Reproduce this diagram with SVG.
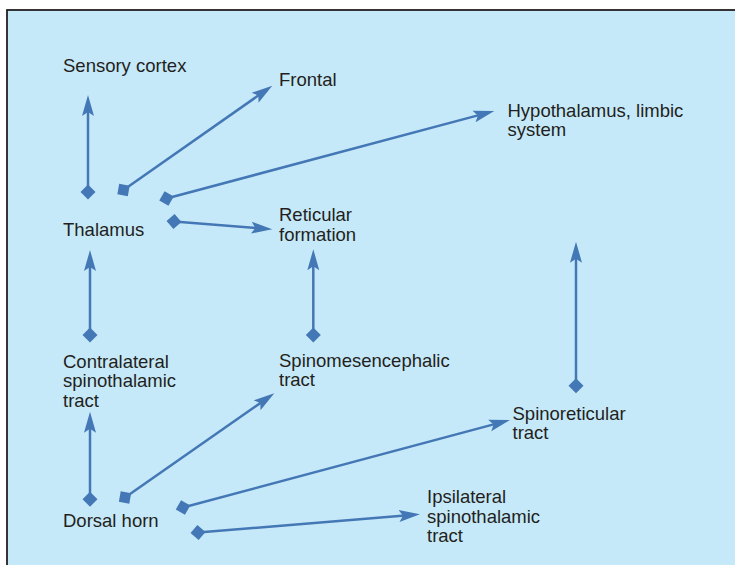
<svg xmlns="http://www.w3.org/2000/svg" width="735" height="565" viewBox="0 0 735 565">
<style>
.lbl{font-family:"Liberation Sans",Arial,sans-serif;font-size:18.5px;fill:#231f20}
.con{stroke:#4477b5;stroke-width:2.5;fill:none;marker-start:url(#dia);marker-end:url(#arr)}
</style>
<defs>
<marker id="arr" markerUnits="userSpaceOnUse" viewBox="0 -7 22 14" refX="6" refY="0" markerWidth="22" markerHeight="14" orient="auto">
<path d="M0,-6 L21,0 L0,6 L4,0 Z" fill="#4477b5"/>
</marker>
<marker id="dia" markerUnits="userSpaceOnUse" viewBox="-8 -8 16 16" refX="0" refY="0" markerWidth="16" markerHeight="16" orient="auto">
<path d="M-7.5,0 L0,-7.5 L7.5,0 L0,7.5 Z" fill="#4477b5"/>
</marker>
</defs>
<rect x="7" y="10" width="740" height="570" fill="#c6e9f9" stroke="#231f20" stroke-width="1.8"/>
<g id="connectors">
<path class="con" d="M88,192 L88,110"/>
<path class="con" d="M123.5,190 L260,94.3"/>
<path class="con" d="M166.5,198.5 L479.8,114.9"/>
<path class="con" d="M174,221.5 L257.3,228.1"/>
<path class="con" d="M90,335 L90,265"/>
<path class="con" d="M90,499.3 L90,426.7"/>
<path class="con" d="M125,497.5 L262,401.9"/>
<path class="con" d="M183,507.5 L495.5,423.9"/>
<path class="con" d="M198,532.5 L405,515.5"/>
<path class="con" d="M313.3,335 L313.3,264.3"/>
<path class="con" d="M576,385.7 L576,256.7"/>
</g>
<g id="sensory-cortex"><text class="lbl" x="63" y="72">Sensory cortex</text></g>
<g id="frontal"><text class="lbl" x="279" y="86">Frontal</text></g>
<g id="hypothalamus"><text class="lbl" x="507.5" y="116.7">Hypothalamus, limbic</text><text class="lbl" x="507.5" y="136">system</text></g>
<g id="thalamus"><text class="lbl" x="63" y="235.7">Thalamus</text></g>
<g id="reticular-formation"><text class="lbl" x="279" y="220.7">Reticular</text><text class="lbl" x="279" y="240.5">formation</text></g>
<g id="contralateral"><text class="lbl" x="63" y="367.5">Contralateral</text><text class="lbl" x="63" y="387">spinothalamic</text><text class="lbl" x="63" y="406.5">tract</text></g>
<g id="spinomesencephalic"><text class="lbl" x="279" y="366.7">Spinomesencephalic</text><text class="lbl" x="279" y="386">tract</text></g>
<g id="spinoreticular"><text class="lbl" x="512.5" y="420">Spinoreticular</text><text class="lbl" x="512.5" y="439.3">tract</text></g>
<g id="dorsal-horn"><text class="lbl" x="63" y="527.3">Dorsal horn</text></g>
<g id="ipsilateral"><text class="lbl" x="427" y="502.7">Ipsilateral</text><text class="lbl" x="427" y="522.5">spinothalamic</text><text class="lbl" x="427" y="541.7">tract</text></g>
</svg>
